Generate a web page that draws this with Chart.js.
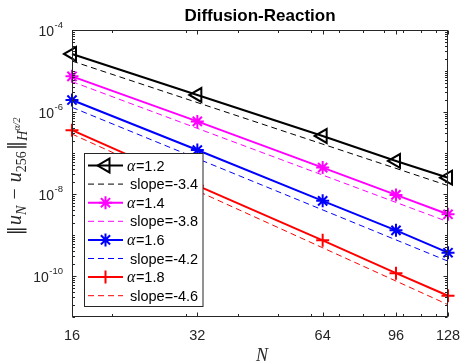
<!DOCTYPE html>
<html>
<head>
<meta charset="utf-8">
<script src="https://cdn.jsdelivr.net/npm/chart.js@4/dist/chart.umd.min.js"></script>
<style>
  html, body { margin: 0; padding: 0; background: #fff; }
  #wrap { width: 463px; height: 363px; }
</style>
</head>
<body>
<div id="wrap"><canvas id="errChart" width="463" height="363"></canvas></div>
<script>
// values
const nValues = [16, 32, 64, 96, 128];
const err12 = [2.6e-5, 2.6e-6, 2.6e-7, 6.4e-8, 2.5e-8];
const err14 = [7.4e-6, 5.9e-7, 4.4e-8, 9.5e-9, 3.2e-9];
const err16 = [1.96e-6, 1.18e-7, 6.8e-9, 1.3e-9, 3.7e-10];
const err18 = [3.6e-7, 1.6e-8, 7.4e-10, 1.17e-10, 3.3e-11];

// reference slope lines (end points)
const slopeN = [16, 128];
const ref34 = [1.75e-5, 1.6e-8];
const ref38 = [5.5e-6, 2.1e-9];
const ref42 = [1.3e-6, 2.3e-10];
const ref46 = [2.9e-7, 2.0e-11];

const alphaLabels = ['1.2', '1.4', '1.6', '1.8'];
const slopeLabels = ['-3.4', '-3.8', '-4.2', '-4.6'];
const xTicks = [16, 32, 64, 96, 128];
const xMinorTicks = [20, 30, 40, 50, 60, 70, 80, 90, 100, 110, 120];
const yTickExps = [-4, -6, -8, -10];

// styles
const colors = ['#000000', '#ff00ff', '#0000ff', '#ff0000'];
const markers = [
    { pointStyle: 'triangle', rotation: -90, radius: 8 },
    { pointStyle: 'star', rotation: 0, radius: 6.5 },
    { pointStyle: 'star', rotation: 0, radius: 6.5 },
    { pointStyle: 'cross', rotation: 0, radius: 6.5 }
];
const axisColor = '#262626';

const errSets = [err12, err14, err16, err18];
const refSets = [ref34, ref38, ref42, ref46];

const datasets = [];
alphaLabels.forEach((a, i) => {
    datasets.push({
        label: 'α=' + a,
        data: nValues.map((n, k) => ({ x: n, y: errSets[i][k] })),
        borderColor: colors[i],
        backgroundColor: 'rgba(0,0,0,0)',
        borderWidth: 2,
        pointStyle: markers[i].pointStyle,
        pointRotation: markers[i].rotation,
        pointRadius: markers[i].radius,
        pointBorderWidth: 2,
        pointBorderColor: colors[i],
        pointBackgroundColor: 'rgba(0,0,0,0)',
        tension: 0,
        fill: false,
        clip: false
    });
    datasets.push({
        label: 'slope=' + slopeLabels[i],
        data: slopeN.map((n, k) => ({ x: n, y: refSets[i][k] })),
        borderColor: colors[i],
        borderWidth: 1,
        borderDash: [6, 4],
        pointRadius: 0,
        tension: 0,
        fill: false,
        clip: false
    });
});

// axes box, ticks, labels, title
const axesPlugin = {
    id: 'matlabAxes',
    afterDatasetsDraw(chart) {
        const ctx = chart.ctx;
        const ca = chart.chartArea;
        const xs = chart.scales.x;
        const ys = chart.scales.y;
        const L = Math.round(ca.left) + 0.5, R = Math.round(ca.right) - 0.5;
        const T = Math.round(ca.top) + 0.5, B = Math.round(ca.bottom) - 0.5;
        ctx.save();
        ctx.strokeStyle = axisColor;
        ctx.lineWidth = 1;
        ctx.strokeRect(L, T, R - L, B - T);

        ctx.beginPath();
        // y ticks
        for (let e = -11; e <= -4; e++) {
            for (let k = 1; k <= 9; k++) {
                const v = k * Math.pow(10, e);
                if (v < 1e-11 * 0.999 || v > 1e-4 * 1.001) continue;
                const major = (k === 1 && yTickExps.includes(e));
                const len = major ? 4 : 2.5;
                const py = Math.round(ys.getPixelForValue(v)) + 0.5;
                ctx.moveTo(L, py); ctx.lineTo(L + len, py);
                ctx.moveTo(R, py); ctx.lineTo(R - len, py);
            }
        }
        // x ticks
        xTicks.forEach(v => {
            const px = Math.round(xs.getPixelForValue(v)) + 0.5;
            ctx.moveTo(px, B); ctx.lineTo(px, B - 4);
            ctx.moveTo(px, T); ctx.lineTo(px, T + 4);
        });
        xMinorTicks.forEach(v => {
            const px = Math.round(xs.getPixelForValue(v)) + 0.5;
            ctx.moveTo(px, B); ctx.lineTo(px, B - 2.5);
            ctx.moveTo(px, T); ctx.lineTo(px, T + 2.5);
        });
        ctx.stroke();

        // tick labels
        ctx.fillStyle = axisColor;
        ctx.textBaseline = 'alphabetic';
        ctx.textAlign = 'left';
        yTickExps.forEach(e => {
            const py = ys.getPixelForValue(Math.pow(10, e));
            ctx.font = '14px "Liberation Sans", Arial, sans-serif';
            const w10 = ctx.measureText('10').width;
            ctx.font = '9.5px "Liberation Sans", Arial, sans-serif';
            const expText = String(e);
            const wExp = ctx.measureText(expText).width;
            const x0 = 63 - wExp - w10 - 0.5;
            ctx.font = '14px "Liberation Sans", Arial, sans-serif';
            ctx.fillText('10', x0, py + 6);
            ctx.font = '9.5px "Liberation Sans", Arial, sans-serif';
            ctx.fillText(expText, x0 + w10 + 0.5, py - 2.5);
        });
        ctx.textAlign = 'center';
        ctx.font = '14.5px "Liberation Sans", Arial, sans-serif';
        xTicks.forEach(v => {
            ctx.fillText(String(v), xs.getPixelForValue(v), 340);
        });

        // x title
        ctx.font = 'italic 18px "Liberation Serif", "DejaVu Serif", serif';
        ctx.fillText('N', 262, 361);

        // title
        ctx.fillStyle = '#000';
        ctx.font = 'bold 17px "Liberation Sans", Arial, sans-serif';
        ctx.fillText('Diffusion-Reaction', (ca.left + ca.right) / 2, 21);

        // y title: ||u_N - u_256||_{H^{alpha/2}}
        const serif = '"Liberation Serif", "DejaVu Serif", serif';
        const bars = '19px "DejaVu Sans", sans-serif';
        const segs = [
            { t: '\u2016', f: bars, dy: 1 },
            { gap: 1 },
            { t: 'u', f: 'italic 20px ' + serif, dy: 0 },
            { t: 'N', f: 'italic 14px ' + serif, dy: 4.5 },
            { gap: 6 },
            { t: '\u2212', f: '20px ' + serif, dy: 0 },
            { gap: 6 },
            { t: 'u', f: 'italic 20px ' + serif, dy: 0 },
            { t: '256', f: '14px ' + serif, dy: 4.5 },
            { gap: 1 },
            { t: '\u2016', f: bars, dy: 1 },
            { t: 'H', f: 'italic 14px ' + serif, dy: 5.5 },
            { t: 'α/2', f: 'italic 10px ' + serif, dy: -1.5 }
        ];
        let total = 0;
        segs.forEach(s => {
            if (s.gap) { s.w = s.gap; } else { ctx.font = s.f; s.w = ctx.measureText(s.t).width; }
            total += s.w;
        });
        ctx.save();
        ctx.translate(21, 176.5);
        ctx.rotate(-Math.PI / 2);
        ctx.fillStyle = axisColor;
        ctx.textAlign = 'left';
        let cx = -total / 2;
        segs.forEach(s => {
            if (!s.gap) {
                ctx.font = s.f;
                ctx.fillText(s.t, cx, s.dy);
            }
            cx += s.w;
        });
        ctx.restore();
        ctx.restore();
    }
};

// legend box inside the axes
const legendPlugin = {
    id: 'boxLegend',
    afterDraw(chart) {
        const ctx = chart.ctx;
        ctx.save();
        ctx.fillStyle = '#ffffff';
        ctx.fillRect(84.5, 153.5, 118.5, 153);
        ctx.strokeStyle = axisColor;
        ctx.lineWidth = 1;
        ctx.strokeRect(84.5, 153.5, 118.5, 153);

        chart.data.datasets.forEach((ds, i) => {
            const y = 165.5 + i * 18.6;
            ctx.save();
            ctx.strokeStyle = ds.borderColor;
            ctx.lineWidth = ds.borderWidth;
            ctx.setLineDash(ds.borderDash || []);
            ctx.beginPath();
            ctx.moveTo(88, y);
            ctx.lineTo(123, y);
            ctx.stroke();
            ctx.setLineDash([]);
            if (ds.pointRadius > 0) {
                ctx.fillStyle = 'rgba(0,0,0,0)';
                ctx.lineWidth = ds.pointBorderWidth;
                Chart.helpers.drawPoint(ctx, {
                    pointStyle: ds.pointStyle,
                    rotation: ds.pointRotation,
                    radius: ds.pointRadius,
                    borderWidth: ds.pointBorderWidth
                }, 105.5, y);
            }
            ctx.restore();

            ctx.fillStyle = '#000';
            ctx.textBaseline = 'middle';
            ctx.textAlign = 'left';
            if (i % 2 === 0) {
                ctx.font = 'italic 16px "Liberation Serif", "DejaVu Serif", serif';
                ctx.fillText('α', 127, y + 1);
                const wa = ctx.measureText('α').width;
                ctx.font = '14.5px "Liberation Sans", Arial, sans-serif';
                ctx.fillText(ds.label.slice(1), 127 + wa + 0.5, y + 1);
            } else {
                ctx.font = '14.5px "Liberation Sans", Arial, sans-serif';
                ctx.fillText(ds.label, 130, y + 1);
            }
        });
        ctx.restore();
    }
};

const config = {
    type: 'line',
    data: { datasets: datasets },
    options: {
        responsive: false,
        animation: false,
        devicePixelRatio: 1,
        layout: { padding: { left: 72, right: 15, top: 30, bottom: 46 } },
        plugins: {
            legend: { display: false },
            tooltip: { enabled: false }
        },
        scales: {
            x: { type: 'logarithmic', min: 16, max: 128, display: false },
            y: { type: 'logarithmic', min: 1e-11, max: 1e-4, display: false }
        }
    },
    plugins: [axesPlugin, legendPlugin]
};

new Chart(document.getElementById('errChart').getContext('2d'), config);
</script>
</body>
</html>
